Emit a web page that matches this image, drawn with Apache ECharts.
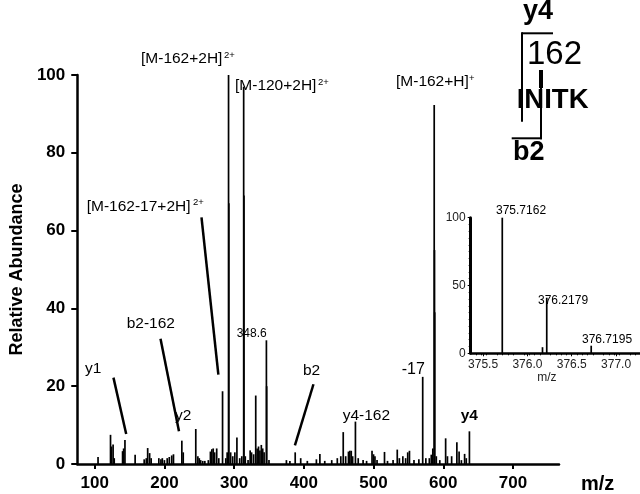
<!DOCTYPE html>
<html><head><meta charset="utf-8">
<script src="https://cdn.jsdelivr.net/npm/echarts@6/dist/echarts.min.js"></script>
<style>html,body{margin:0;padding:0;background:#fff}#c{width:640px;height:494px}</style>
</head><body><div id="c"></div>
<script>
// ---- data ----
const spectrumPeaks = [
 [104.8,1.8],[122.7,7.5],[124,4.5],[126.4,5],[128,1.5],[140,3.3],[141.5,4],[143.4,6.2],
 [158,2.4],[171,1.2],[174,1.5],[176,4.1],[178.8,2.8],[181,1.5],[192,1.5],[195,1.2],[197,1.5],
 [200,1],[204,1.5],[207,1.8],[210.5,2.2],[213,2.5],[225,6],[227,3],[245,9],[248,2],[250,1.5],
 [252,1],[255,0.8],[258,0.8],[263,1],[266,3.2],[268,3.8],[270,4],[272,3],[275,4],[278,1.5],
 [283.4,18.7],[288,1.5],[290,3],[292,100],[292.4,67],[295,3],[298,2],[301,3],[304,6.8],[308,1.5],
 [311,2],[313.7,97],[314.1,69],[316,2],[320,1],[323,3.5],[325,3],[328,2.5],[331,17.6],[333,4],
 [335,4.5],[337,3.5],[339,4.9],[341,4],[343,3],[346.3,31.8],[346.7,20],[350,1],[375,1],[380,0.8],
 [387.6,3],[395.5,1.5],[405,0.8],[418,1.2],[423,2.6],[430,0.8],[440,1],[448,1.5],[453,2],
 [456.5,8.2],[460,2],[464,3.2],[466,3.4],[468,3.4],[470,2],[474,10.9],[478,1.5],[485,1],[490,0.8],
 [497.8,3.4],[500,2.5],[502,2],[505,1],[515.7,3.1],[520,0.8],[528,1],[534,3.7],[537,1.5],[542,2],
 [546,1.5],[549,3],[551.5,3.4],[558,1],[565,1.2],[570.5,22.4],[575,1.5],[580,1.5],[582.8,2.4],
 [585,4],[587,92.3],[587.4,55],[587.7,39],[590,2],[595,1],[603.4,6.6],[606,2],[612,2],[619.5,5.6],
 [622.7,3.2],[626,1],[630.6,2.6],[633,1.5],[637.5,8.4]
];
const xTickLabels = [100,200,300,400,500,600,700];
const yTickLabels = [0,20,40,60,80,100];
const insetPeaks = [[375.7162,100],[376.17,4.5],[376.2179,41],[376.7195,5.6]];
const insetLabeled = [375.7162,376.2179,376.7195];
const insetXTicks = [375.5,376.0,376.5,377.0];
// leader lines [[mz,int],[mz,int]]
const leaders = [
 [[253.2,63.4],[277.4,23.0]],
 [[126.9,22.2],[145.2,7.7]],
 [[194.4,32.2],[220.9,8.4]],
 [[413.8,20.5],[387.2,4.8]]
];

const FONT = '"Liberation Sans", Arial, sans-serif';

function stick(w){
  return function(params, api){
    const x = api.value(0), y = api.value(1);
    const p0 = api.coord([x,0]), p1 = api.coord([x,y]);
    return {type:'line', shape:{x1:p0[0],y1:p0[1],x2:p1[0],y2:p1[1]},
      style:{stroke:'#000', lineWidth:w}};
  };
}

function txt(text, x, y, size, weight, align){
  return {type:'text', left:x, top:y - size*0.6, z:10,
    style:{text:text, font:(weight||'normal')+' '+size+'px '+FONT, fill:'#000', textAlign:align||'left'}};
}
function ln(x1,y1,x2,y2,w){
  return {type:'line', z:10, shape:{x1,y1,x2,y2}, style:{stroke:'#000', lineWidth:w}};
}

const insetLabelPos = {
  '375.7162':[496,212],
  '376.2179':[538,302],
  '376.7195':[582,341]
};

const graphics = [
  txt('[M-162+2H]',141,60,15.5), txt('2+',224,56,9.5),
  txt('[M-120+2H]',235,87.3,15.5), txt('2+',318,83.5,9.5),
  txt('[M-162-17+2H]',86.7,208.3,15.5), txt('2+',193,203,9.5),
  txt('[M-162+H]',396,83.3,15.5), txt('+',469,79,9.5),
  txt('y1',85,370,15.5),
  txt('b2-162',126.7,325,15.5),
  txt('y2',175,417.3,15.5),
  txt('348.6',236.7,335,12),
  txt('b2',303,371.7,15.5),
  txt('y4-162',342.7,416.7,15.5),
  txt('-17',401.7,370.7,16),
  txt('y4',460.7,416.7,15.5,'bold'),
  // structure
  txt('y4',523,14,27,'bold'),
  txt('162',527,58,33),
  txt('INITK',516.7,103.3,27.5,'bold'),
  txt('b2',513,155,27,'bold'),
  ln(522,33.3,553,33.3,2), ln(522,32.3,522,121.7,2),
  ln(541,70,541,88,4), ln(541,86,541,139.3,2), ln(511.7,138.3,542,138.3,2)
];
insetLabeled.forEach(v=>{
  const p = insetLabelPos[v.toFixed(4)];
  graphics.push(txt(v.toFixed(4), p[0], p[1], 12));
});

const chart = echarts.init(document.getElementById('c'), null, {renderer:'canvas'});
chart.setOption({
  animation:false,
  backgroundColor:'#fff',
  grid:[
    {left:57, right:81, top:75, bottom:28},
    {left:470.7, right:0, top:217.7, bottom:140.7}
  ],
  xAxis:[
    {type:'value', gridIndex:0, min:75, max:766,
     axisLine:{lineStyle:{color:'#000', width:2.5}},
     axisTick:{show:true, length:5, lineStyle:{color:'#000', width:2}, customValues:xTickLabels},
     axisLabel:{customValues:xTickLabels, margin:11, color:'#000', fontSize:17, fontWeight:'bold', fontFamily:FONT},
     splitLine:{show:false},
     name:'m/z', nameLocation:'end', nameGap:22,
     nameTextStyle:{color:'#000', fontSize:20, fontWeight:'bold', fontFamily:FONT, verticalAlign:'top', padding:[10,0,0,0]}
    },
    {type:'value', gridIndex:1, min:375.36, max:377.27,
     axisLine:{lineStyle:{color:'#000', width:2.5}},
     axisTick:{show:true, length:3, lineStyle:{color:'#000', width:1}, customValues:insetXTicks},
     minorTick:{show:true, splitNumber:5, length:2, lineStyle:{color:'#000'}},
     axisLabel:{customValues:insetXTicks, margin:5, color:'#222', fontSize:12, fontFamily:FONT,
       formatter:v=>Number(v).toFixed(1)},
     splitLine:{show:false},
     name:'m/z', nameLocation:'middle', nameGap:14,
     nameTextStyle:{color:'#222', fontSize:12, fontFamily:FONT, padding:[0,17,0,0]}
    }
  ],
  yAxis:[
    {type:'value', gridIndex:0, min:0, max:100, interval:20,
     axisLine:{show:true, lineStyle:{color:'#000', width:2.5}},
     axisTick:{show:true, length:6, lineStyle:{color:'#000', width:2}},
     axisLabel:{margin:12, color:'#000', fontSize:17, fontWeight:'bold', fontFamily:FONT},
     splitLine:{show:false},
     name:'Relative Abundance', nameLocation:'middle', nameGap:37,
     nameTextStyle:{color:'#000', fontSize:18, fontWeight:'bold', fontFamily:FONT}
    },
    {type:'value', gridIndex:1, min:0, max:100, interval:50,
     axisLine:{show:true, lineStyle:{color:'#000', width:3}},
     axisTick:{show:true, length:3, lineStyle:{color:'#000', width:1}},
     minorTick:{show:true, splitNumber:10, length:2, lineStyle:{color:'#000'}},
     axisLabel:{margin:5, color:'#222', fontSize:12, fontFamily:FONT},
     splitLine:{show:false}
    }
  ],
  series:[
    {type:'custom', xAxisIndex:0, yAxisIndex:0, renderItem:stick(1.7), data:spectrumPeaks, z:3},
    {type:'custom', xAxisIndex:1, yAxisIndex:1, renderItem:stick(1.7), data:insetPeaks, z:3}
  ].concat(leaders.map(seg=>({
    type:'line', xAxisIndex:0, yAxisIndex:0, data:seg, symbol:'none',
    lineStyle:{color:'#000', width:2.5}, z:4
  }))),
  graphic:graphics
});
</script></body></html>
